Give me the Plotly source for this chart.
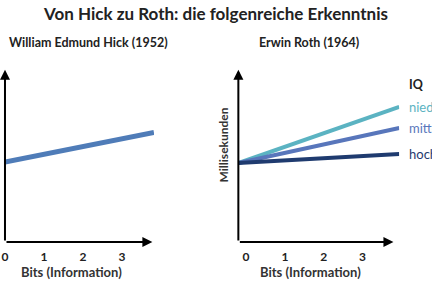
import plotly.graph_objects as go

# data
hick_x = [0, 3.82]
hick_y = [46, 63]
roth_x = [-0.2, 3.95]
roth_series = ["niedrig", "mittel", "hoch"]
roth_y = {"niedrig": [45.4, 77.6], "mittel": [45.4, 65.5], "hoch": [45.4, 50.6]}
roth_colors = {"niedrig": "#5bb3c2", "mittel": "#5876bb", "hoch": "#1f3b6f"}
tick_vals = [0, 1, 2, 3]
tick_text = ["<b>0</b>", "<b>1</b>", "<b>2</b>", "<b>3</b>"]

W, H = 432, 284
FONT = "Lato"

def px(x):
    return x / W

def py(y):
    return 1 - y / H

fig = go.Figure()
fig.add_trace(go.Scatter(x=hick_x, y=hick_y, mode="lines", xaxis="x", yaxis="y",
                         line=dict(color="#4f7cb8", width=5), showlegend=False, hoverinfo="skip"))
for name in roth_series:
    fig.add_trace(go.Scatter(x=roth_x, y=roth_y[name], mode="lines", xaxis="x2", yaxis="y2",
                             line=dict(color=roth_colors[name], width=4), showlegend=False,
                             hoverinfo="skip"))

axis_common = dict(showgrid=False, zeroline=False, showline=False, ticks="",
                   tickfont=dict(family=FONT, size=12, color="#222"), fixedrange=True)

fig.update_layout(
    width=W, height=H, margin=dict(l=0, r=0, t=0, b=0),
    paper_bgcolor="white", plot_bgcolor="white",
    xaxis=dict(domain=[px(2), px(152)], range=[0, 3.82], tickvals=tick_vals, ticktext=tick_text,
               ticklabelstandoff=6, ticklabeloverflow="allow", **axis_common),
    yaxis=dict(domain=[py(242), py(68)], range=[0, 100], showticklabels=False, **axis_common),
    xaxis2=dict(domain=[px(237), px(399)], range=[-0.2, 3.95], tickvals=tick_vals, ticktext=tick_text,
                ticklabelstandoff=6, ticklabeloverflow="allow", anchor="y2", **axis_common),
    yaxis2=dict(domain=[py(242), py(68)], range=[0, 100], showticklabels=False, anchor="x2",
                **axis_common),
)

ann = []
# axis arrows
for xr, yr, x0, x1 in [("x", "y", 0, 3.78), ("x2", "y2", -0.2, 3.8)]:
    ann.append(dict(x=x1, y=0, ax=x0, ay=0, xref=xr, yref=yr, axref=xr, ayref=yr,
                    showarrow=True, arrowhead=2, arrowsize=1, arrowwidth=2, arrowcolor="black", text=""))
    ann.append(dict(x=x0, y=99, ax=x0, ay=0, xref=xr, yref=yr, axref=xr, ayref=yr,
                    showarrow=True, arrowhead=2, arrowsize=1, arrowwidth=2, arrowcolor="black", text=""))

def txt(text, x, y, size, color="#222", xanchor="center", angle=0, yref="paper"):
    return dict(text=text, x=x, y=y, xref="paper", yref=yref, xanchor=xanchor, yanchor="middle",
                textangle=angle, showarrow=False, font=dict(family=FONT, size=size, color=color))

ann.append(txt("<b>Von Hick zu Roth: die folgenreiche Erkenntnis</b>", px(214), py(13), 17))
ann.append(txt("<b>William Edmund Hick (1952)</b>", px(4), py(42), 12.5, xanchor="left"))
ann.append(txt("<b>Erwin Roth (1964)</b>", px(256), py(42), 12.5, xanchor="left"))
ann.append(txt("<b>Bits (Information)</b>", px(69), py(272), 13, "#333"))
ann.append(txt("<b>Bits (Information)</b>", px(310), py(272), 13, "#333"))
ann.append(txt("<b>Millisekunden</b>", px(222), py(145), 12, "#333", angle=-90))
ann.append(txt("<b>IQ</b>", px(407), py(84), 12.5, xanchor="left"))
for name in roth_series:
    ann.append(txt(name, px(407), roth_y[name][-1], 13, roth_colors[name], xanchor="left", yref="y2"))

fig.update_layout(annotations=ann)
fig.write_html("out.html", config={"displayModeBar": False})
